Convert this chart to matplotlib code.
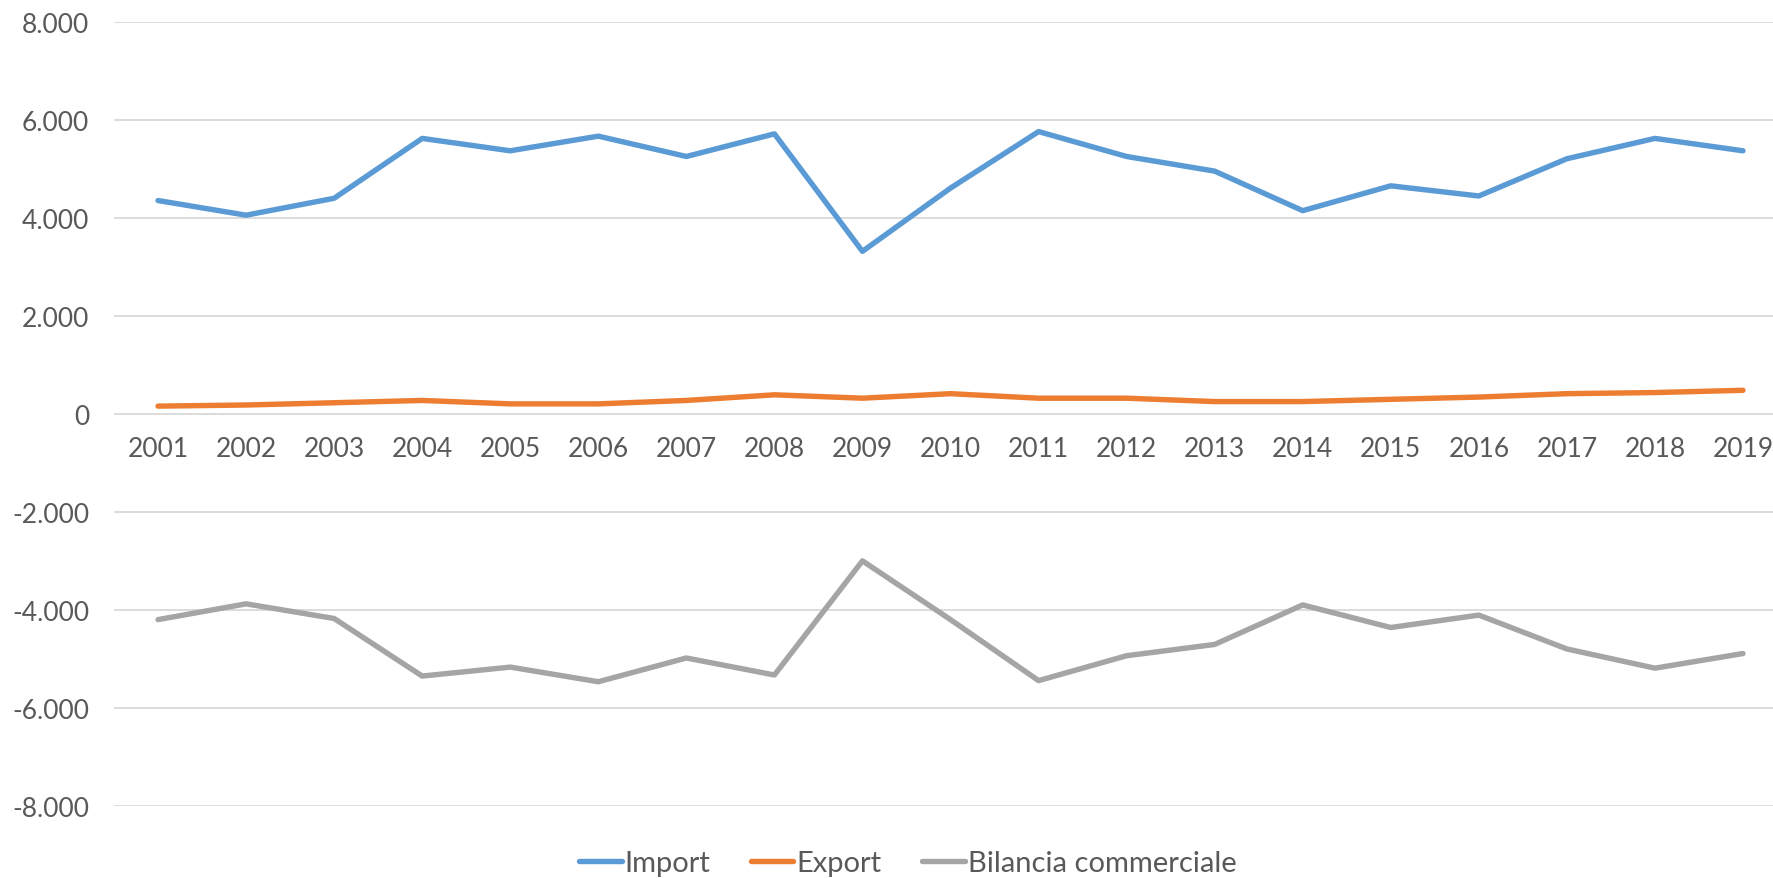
import matplotlib
matplotlib.use("Agg")
import matplotlib.pyplot as plt
from matplotlib.ticker import FuncFormatter

# dati (milioni di euro, circa)
anni = list(range(2001, 2020))
importazioni = [4357, 4058, 4403, 5625, 5372, 5671, 5256, 5718, 3320, 4611,
                5764, 5256, 4957, 4150, 4657, 4450, 5210, 5625, 5372]
esportazioni = [161, 184, 230, 277, 207, 207, 277, 392, 323, 415,
                323, 323, 254, 254, 300, 346, 415, 438, 484]
bilancia = [-4196, -3874, -4173, -5348, -5165, -5464, -4979, -5326, -2997, -4196,
            -5441, -4933, -4703, -3896, -4357, -4104, -4795, -5187, -4888]
y_ticks = list(range(-8000, 8001, 2000))

TEXT = "#595959"
plt.rcParams["font.family"] = ["Lato", "DejaVu Sans"]

fig = plt.figure(figsize=(17.73, 8.79), dpi=100)
ax = fig.add_axes([0.0643, 0.0819, 0.9436, 0.8919])

ax.plot(anni, importazioni, color="#5B9BD5", lw=3.9, solid_capstyle="round",
        label="Import", zorder=3)
ax.plot(anni, esportazioni, color="#ED7D31", lw=3.9, solid_capstyle="round",
        label="Export", zorder=3)
ax.plot(anni, bilancia, color="#A5A5A5", lw=3.9, solid_capstyle="round",
        label="Bilancia commerciale", zorder=3)

ax.set_xlim(2000.5, 2019.5)
ax.set_ylim(-8000, 8000)
ax.set_yticks(y_ticks)
ax.yaxis.set_major_formatter(FuncFormatter(
    lambda v, _: "0" if v == 0 else f"{int(v):,}".replace(",", ".")))
ax.set_xticks(anni)
ax.set_xticklabels([str(a) for a in anni])

ax.grid(axis="y", color="#D9D9D9", lw=1.3, zorder=0)
for s in ax.spines.values():
    s.set_visible(False)
ax.spines["bottom"].set_position(("data", 0))
ax.tick_params(axis="y", length=0, pad=18, labelsize=19, labelcolor=TEXT)
ax.tick_params(axis="x", length=0, pad=16, labelsize=19, labelcolor=TEXT)

fig.legend(loc="center", bbox_to_anchor=(0.512, 0.017), ncol=3, frameon=False,
           fontsize=21, labelcolor=TEXT, handlelength=1.45, handletextpad=0.1,
           columnspacing=1.4)

fig.savefig("out.png", dpi=100)
